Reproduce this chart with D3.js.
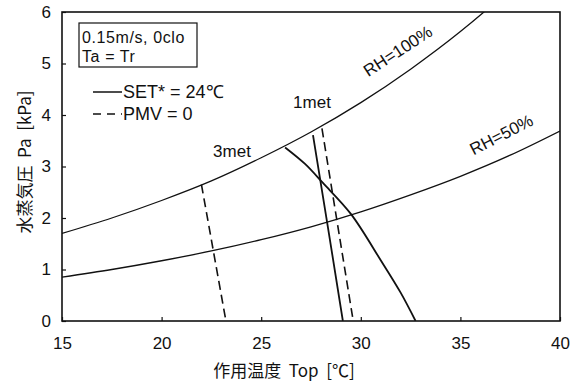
<!DOCTYPE html>
<html>
<head>
<meta charset="utf-8">
<script src="https://cdn.jsdelivr.net/npm/d3@7/dist/d3.min.js"></script>
<style>
  html, body { margin: 0; padding: 0; background: #fff; }
  svg { display: block; }
  text { font-family: "Liberation Sans", Arial, sans-serif; fill: #111; }
  .cjk { font-family: "Noto Sans CJK JP", sans-serif; white-space: pre; }
</style>
</head>
<body>
<svg id="chart" width="577" height="383"></svg>
<script>
// Operative temperature (°C) vs. water vapour pressure (kPa)
const xTicks = [15, 20, 25, 30, 35, 40];
const yTicks = [0, 1, 2, 3, 4, 5, 6];

// Relative-humidity curves
const rhTemps = [15, 17.5, 20, 22.5, 25, 27.5, 30, 32.5, 35, 37.5, 40];
const rh100 = [1.70, 2.00, 2.34, 2.72, 3.17, 3.67, 4.24, 4.89, 5.62, 6.45, 7.38];
const rh50 = [0.85, 1.00, 1.17, 1.36, 1.58, 1.83, 2.12, 2.45, 2.81, 3.22, 3.69];

// SET* = 24°C lines
const set1Temps = [27.6, 28.35, 29.1];
const set1Pa = [3.61, 1.82, 0.0];
const set3Temps = [26.2, 27.2, 28.1, 29.5, 31.0, 32.0, 32.75];
const set3Pa = [3.37, 3.05, 2.68, 2.08, 1.18, 0.55, 0.0];

// PMV = 0 lines
const pmv1Temps = [28.05, 29.62];
const pmv1Pa = [3.74, 0.0];
const pmv3Temps = [22.0, 23.23];
const pmv3Pa = [2.65, 0.0];

const svg = d3.select("#chart");
const m = { left: 62, right: 560, top: 12, bottom: 321 };
const x = d3.scaleLinear().domain([15, 40]).range([m.left, m.right]);
const y = d3.scaleLinear().domain([0, 6]).range([m.bottom, m.top]);

svg.append("defs").append("clipPath").attr("id", "plot")
  .append("rect").attr("x", m.left).attr("y", m.top)
  .attr("width", m.right - m.left).attr("height", m.bottom - m.top);

const zip = (xs, ys) => xs.map((t, i) => [t, ys[i]]);
const smooth = d3.line().x(d => x(d[0])).y(d => y(d[1])).curve(d3.curveMonotoneX);
const straight = d3.line().x(d => x(d[0])).y(d => y(d[1]));
const curved = d3.line().x(d => x(d[0])).y(d => y(d[1])).curve(d3.curveCatmullRom);

const g = svg.append("g").attr("clip-path", "url(#plot)");

g.append("path").attr("d", smooth(zip(rhTemps, rh100)))
  .attr("fill", "none").attr("stroke", "#111").attr("stroke-width", 1.3);
g.append("path").attr("d", smooth(zip(rhTemps, rh50)))
  .attr("fill", "none").attr("stroke", "#111").attr("stroke-width", 1.3);

g.append("path").attr("d", straight(zip(set1Temps, set1Pa)))
  .attr("fill", "none").attr("stroke", "#111").attr("stroke-width", 1.8);
g.append("path").attr("d", curved(zip(set3Temps, set3Pa)))
  .attr("fill", "none").attr("stroke", "#111").attr("stroke-width", 1.8);

g.append("path").attr("d", straight(zip(pmv1Temps, pmv1Pa)))
  .attr("fill", "none").attr("stroke", "#111").attr("stroke-width", 1.6)
  .attr("stroke-dasharray", "9,5");
g.append("path").attr("d", straight(zip(pmv3Temps, pmv3Pa)))
  .attr("fill", "none").attr("stroke", "#111").attr("stroke-width", 1.6)
  .attr("stroke-dasharray", "9,5");

// Axes with inward ticks
const yAxis = svg.append("g").attr("transform", `translate(${m.left},0)`)
  .call(d3.axisLeft(y).tickValues(yTicks).tickFormat(d3.format("d"))
    .tickSizeInner(-4).tickSizeOuter(0).tickPadding(11));
const xAxis = svg.append("g").attr("transform", `translate(0,${m.bottom})`)
  .call(d3.axisBottom(x).tickValues(xTicks).tickFormat(d3.format("d"))
    .tickSizeInner(-4).tickSizeOuter(0).tickPadding(16));
[yAxis, xAxis].forEach(a => {
  a.select(".domain").remove();
  a.selectAll(".tick line").attr("stroke", "#111").attr("stroke-width", 1.2);
  a.selectAll(".tick text").style("font-size", "17px")
    .style("font-family", "'Liberation Sans', Arial, sans-serif").attr("fill", "#111");
});

// Plot frame
svg.append("rect").attr("x", m.left).attr("y", m.top)
  .attr("width", m.right - m.left).attr("height", m.bottom - m.top)
  .attr("fill", "none").attr("stroke", "#111").attr("stroke-width", 1.6);

// Axis titles
svg.append("text").attr("x", 284).attr("y", 377).attr("text-anchor", "middle")
  .style("font-size", "17px").attr("class", "cjk").text("作用温度  Top  [℃]");
svg.append("text").attr("transform", "translate(31,162) rotate(-90)")
  .attr("text-anchor", "middle").style("font-size", "17px").attr("class", "cjk")
  .text("水蒸気圧  Pa  [kPa]");

// Condition box
svg.append("rect").attr("x", 79).attr("y", 23).attr("width", 118).attr("height", 44)
  .attr("fill", "none").attr("stroke", "#111").attr("stroke-width", 1.2);
svg.append("text").attr("x", 82).attr("y", 43).style("font-size", "16px")
  .style("letter-spacing", "0.6px").text("0.15m/s, 0clo");
svg.append("text").attr("x", 82).attr("y", 61.5).style("font-size", "16px")
  .style("letter-spacing", "0.6px").text("Ta = Tr");

// Legend
svg.append("line").attr("x1", 93).attr("x2", 122).attr("y1", 92).attr("y2", 92)
  .attr("stroke", "#111").attr("stroke-width", 1.5);
svg.append("text").attr("x", 123).attr("y", 98).style("font-size", "18px").text("SET* = 24℃");
svg.append("line").attr("x1", 93).attr("x2", 122).attr("y1", 114).attr("y2", 114)
  .attr("stroke", "#111").attr("stroke-width", 1.5).attr("stroke-dasharray", "8,6");
svg.append("text").attr("x", 123).attr("y", 120).style("font-size", "18px").text("PMV = 0");

// Curve labels
svg.append("text").attr("x", 312).attr("y", 108).attr("text-anchor", "middle")
  .style("font-size", "17px").text("1met");
svg.append("text").attr("x", 232).attr("y", 157).attr("text-anchor", "middle")
  .style("font-size", "17px").text("3met");
svg.append("text").attr("transform", "translate(401,56) rotate(-33)")
  .attr("text-anchor", "middle").style("font-size", "17px").text("RH=100%");
svg.append("text").attr("transform", "translate(504,140) rotate(-27)")
  .attr("text-anchor", "middle").style("font-size", "17px").text("RH=50%");
</script>
</body>
</html>
